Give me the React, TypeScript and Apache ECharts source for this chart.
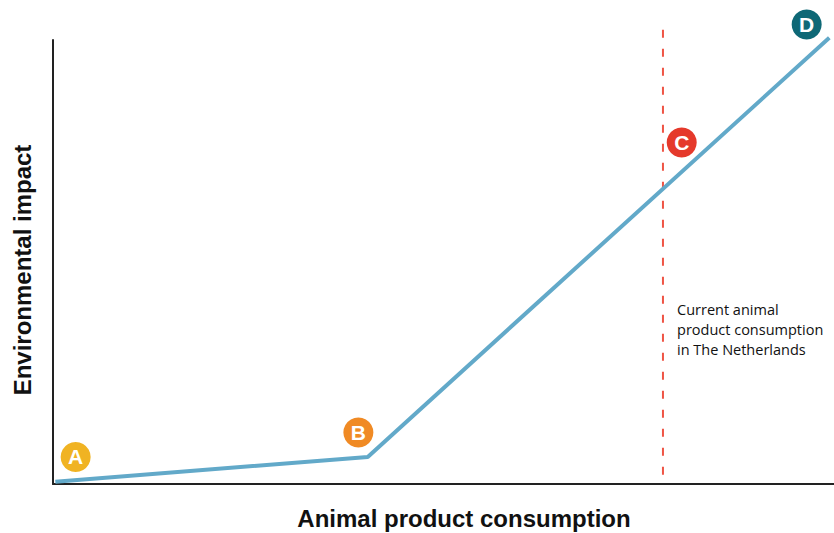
import React, { useEffect, useRef } from "react";
import * as echarts from "echarts";

// Piecewise impact curve (x: consumption 0-100, y: impact 0-100)
const curveX = [0.3, 40.3, 99.4];
const curveY = [0.5, 6.1, 100.5];

// Labelled points
const pointNames = ["A", "B", "C", "D"];
const pointX = [2.9, 39.1, 80.5, 96.5];
const pointY = [6.1, 11.6, 76.9, 103.5];
const pointColors = ["#f0b323", "#f08a24", "#e5392b", "#0e6876"];

// Current consumption marker
const currentX = 78.1;
const currentYRange = [102.3, 0];
const currentLabel = "Current animal\nproduct consumption\nin The Netherlands";
const currentLabelPos = [79.9, 34.8];

const xTitle = "Animal product consumption";
const yTitle = "Environmental impact";

export default function App() {
  const ref = useRef<HTMLDivElement>(null);
  useEffect(() => {
    document.body.style.margin = "0";
    const chart = echarts.init(ref.current!, null, { renderer: "svg" });
    chart.setOption({
      animation: false,
      grid: { left: 53, right: 0, top: 40, bottom: 49 },
      xAxis: {
        type: "value",
        min: 0,
        max: 100,
        axisLine: { show: true, onZero: false, lineStyle: { color: "#222", width: 2 } },
        axisTick: { show: false },
        axisLabel: { show: false },
        splitLine: { show: false },
      },
      yAxis: {
        type: "value",
        min: 0,
        max: 100,
        axisLine: { show: true, onZero: false, lineStyle: { color: "#222", width: 2 } },
        axisTick: { show: false },
        axisLabel: { show: false },
        splitLine: { show: false },
      },
      graphic: [
        {
          type: "text",
          x: 464,
          y: 518,
          style: {
            text: xTitle,
            font: "bold 24px 'Liberation Sans', Arial, sans-serif",
            fill: "#111",
            textAlign: "center",
            textVerticalAlign: "middle",
          },
        },
        {
          type: "text",
          x: 22,
          y: 270,
          rotation: Math.PI / 2,
          style: {
            text: yTitle,
            font: "bold 24px 'Liberation Sans', Arial, sans-serif",
            fill: "#111",
            textAlign: "center",
            textVerticalAlign: "middle",
          },
        },
      ],
      series: [
        {
          type: "line",
          data: [
            [currentX, currentYRange[0]],
            [currentX, currentYRange[1]],
          ],
          symbol: "none",
          clip: false,
          lineStyle: { color: "#ef5445", width: 2, type: [8, 11] },
          z: 1,
        },
        {
          type: "line",
          data: curveX.map((x, i) => [x, curveY[i]]),
          symbol: "none",
          clip: false,
          lineStyle: { color: "#62a9c9", width: 4 },
          z: 2,
        },
        {
          type: "scatter",
          data: [{ value: currentLabelPos, name: currentLabel }],
          symbolSize: 0,
          itemStyle: { opacity: 1 },
          label: {
            show: true,
            position: "right",
            distance: 0,
            formatter: "{b}",
            fontFamily: "'Open Sans', sans-serif",
            fontSize: 14.5,
            lineHeight: 20,
            color: "#111",
            align: "left",
          },
          z: 3,
        },
        {
          type: "scatter",
          clip: false,
          symbolSize: 30,
          data: pointNames.map((n, i) => ({
            name: n,
            value: [pointX[i], pointY[i]],
            itemStyle: { color: pointColors[i], opacity: 1 },
          })),
          label: {
            show: true,
            position: "inside",
            formatter: "{b}",
            color: "#fff",
            fontWeight: "bold",
            fontSize: 21,
            fontFamily: "'Liberation Sans', Arial, sans-serif",
          },
          z: 4,
        },
      ],
    });
    return () => chart.dispose();
  }, []);
  return <div ref={ref} style={{ width: 834, height: 533 }} />;
}
